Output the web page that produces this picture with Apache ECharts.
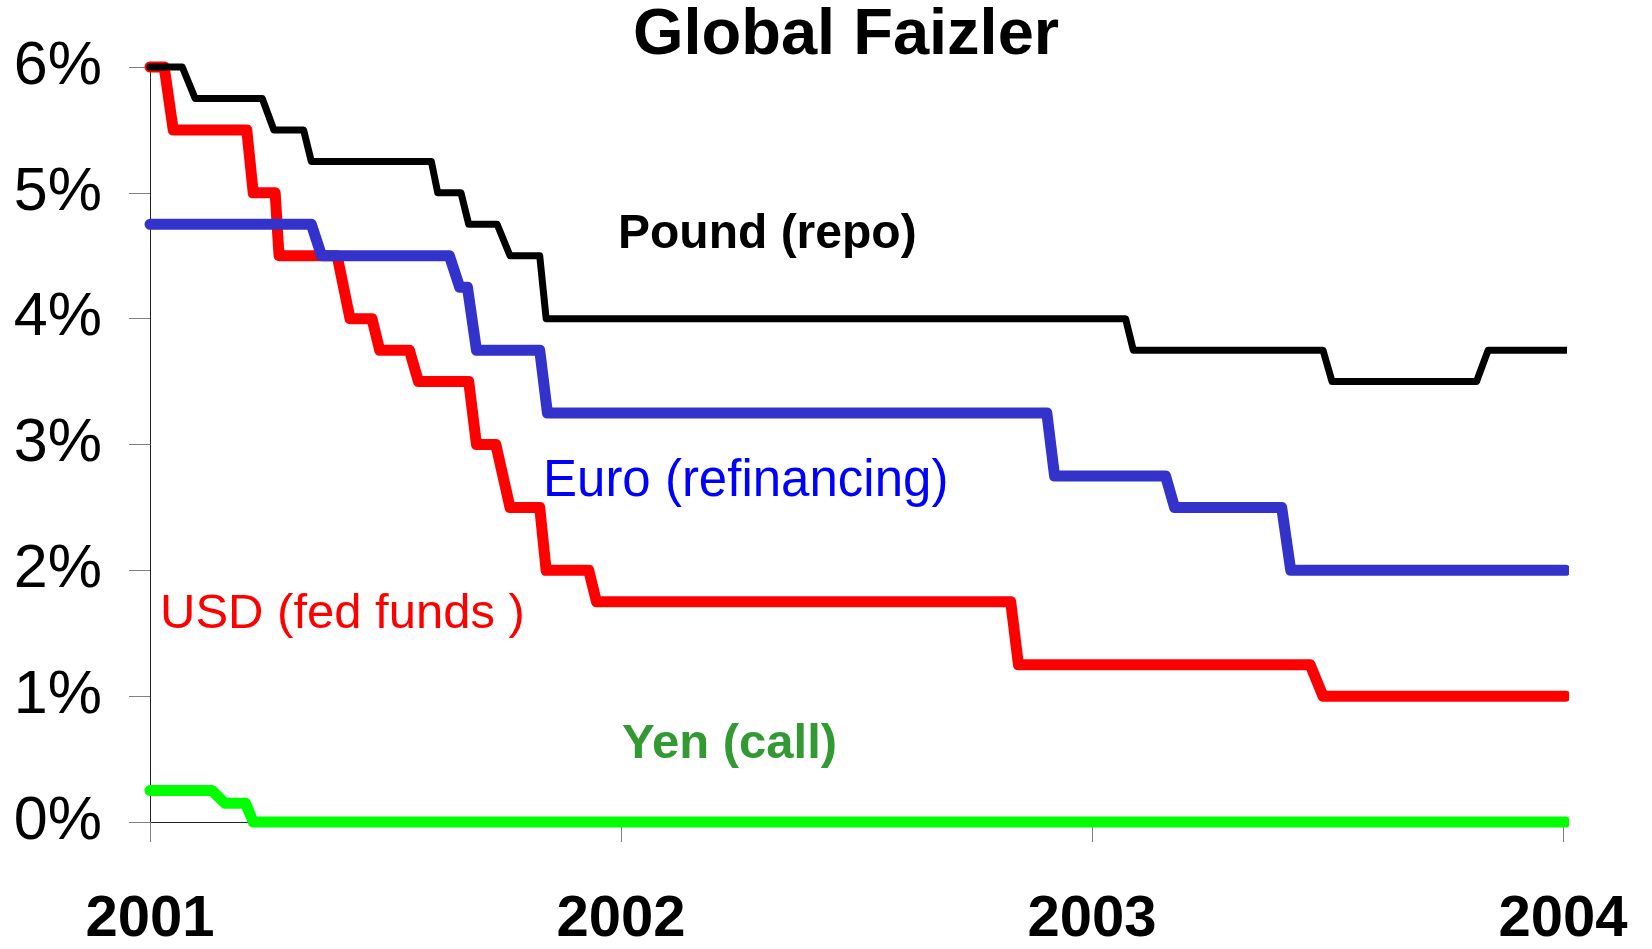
<!DOCTYPE html>
<html>
<head>
<meta charset="utf-8">
<title>Global Faizler</title>
<script src="https://cdn.jsdelivr.net/npm/echarts@6/dist/echarts.min.js"></script>
<style>
    html, body { margin: 0; padding: 0; background: #fff; }
    #chart { width: 1652px; height: 949px; }
</style>
</head>
<body>
<div id="chart"></div>
<script>
/*
 * Global Faizler - policy rates 2001-2003
 * weekly sampled step lines, x axis in decimal years
 */

// ======================
// DATA
// ======================

const yearTicks = [2001, 2002, 2003, 2004];
const rateTicks = [0, 1, 2, 3, 4, 5, 6];

const seriesNames = ['USD (fed funds )', 'Euro (refinancing)', 'Pound (repo)', 'Yen (call)'];

const usdDates = ['2001-01-01', '2001-01-12', '2001-01-19', '2001-03-17', '2001-03-22', '2001-04-08', '2001-04-11',
    '2001-05-26', '2001-06-05', '2001-06-22', '2001-06-28', '2001-07-21', '2001-07-28', '2001-09-05', '2001-09-11',
    '2001-09-26', '2001-10-07', '2001-10-30', '2001-11-04', '2001-12-07', '2001-12-13', '2002-10-30', '2002-11-05',
    '2003-06-19', '2003-06-29', '2004-01-03'];
const usdRates = [6.0, 6.0, 5.5, 5.5, 5.0, 5.0, 4.5,
    4.5, 4.0, 4.0, 3.75, 3.75, 3.5, 3.5, 3.0,
    3.0, 2.5, 2.5, 2.0, 2.0, 1.75, 1.75, 1.25,
    1.25, 1.0, 1.0];

const euroDates = ['2001-01-01', '2001-05-06', '2001-05-14', '2001-08-21', '2001-08-29', '2001-09-04', '2001-09-11',
    '2001-10-30', '2001-11-05', '2002-11-27', '2002-12-03', '2003-02-27', '2003-03-06', '2003-05-28', '2003-06-04',
    '2004-01-03'];
const euroRates = [4.75, 4.75, 4.5, 4.5, 4.25, 4.25, 3.75,
    3.75, 3.25, 3.25, 2.75, 2.75, 2.5, 2.5, 2.0,
    2.0];

const poundDates = ['2001-01-01', '2001-01-26', '2001-02-05', '2001-03-29', '2001-04-07', '2001-04-30', '2001-05-06',
    '2001-08-07', '2001-08-12', '2001-08-30', '2001-09-05', '2001-09-27', '2001-10-07', '2001-10-30', '2001-11-04',
    '2003-01-27', '2003-02-02', '2003-06-29', '2003-07-06', '2003-10-26', '2003-11-04', '2004-01-03'];
const poundRates = [6.0, 6.0, 5.75, 5.75, 5.5, 5.5, 5.25,
    5.25, 5.0, 5.0, 4.75, 4.75, 4.5, 4.5, 4.0,
    4.0, 3.75, 3.75, 3.5, 3.5, 3.75, 3.75];

const yenDates = ['2001-01-01', '2001-02-18', '2001-02-28', '2001-03-16', '2001-03-22', '2004-01-03'];
const yenRates = [0.25, 0.25, 0.15, 0.15, 0.0, 0.0];

// ======================
// HELPERS
// ======================

const FONT = '"Liberation Sans", Arial, Helvetica, sans-serif';

function toYear(s) {
    const [y, m, d] = s.split('-').map(Number);
    const start = Date.UTC(y, 0, 1);
    const end = Date.UTC(y + 1, 0, 1);
    return y + (Date.UTC(y, m - 1, d) - start) / (end - start);
}

function pairs(dates, rates) {
    return dates.map((d, i) => [toYear(d), rates[i]]);
}

function stepLine(name, dates, rates, color, width) {
    return {
        name: name,
        type: 'line',
        data: pairs(dates, rates),
        showSymbol: false,
        symbol: 'none',
        clip: false,
        animation: false,
        lineStyle: { color: color, width: width, cap: 'round', join: 'round' }
    };
}

function label(text, x, y, color, weight, size) {
    return {
        type: 'text',
        x: x,
        y: y,
        style: {
            text: text,
            fill: color,
            font: `${weight} ${size}px ${FONT}`,
            align: 'left',
            verticalAlign: 'middle'
        }
    };
}

// ======================
// CHART
// ======================

const chart = echarts.init(document.getElementById('chart'), null, { renderer: 'canvas' });

const option = {
    backgroundColor: '#ffffff',
    animation: false,
    title: {
        text: 'Global Faizler',
        left: 846,
        top: 36,
        textAlign: 'center',
        textVerticalAlign: 'middle',
        padding: 0,
        textStyle: { fontFamily: FONT, fontSize: 65, fontWeight: 'bold', color: '#000' }
    },
    grid: { left: 150, right: 89, top: 67, bottom: 126, containLabel: false },
    xAxis: {
        type: 'value',
        min: yearTicks[0],
        max: yearTicks[yearTicks.length - 1],
        interval: 1,
        axisLine: { show: true, onZero: false, lineStyle: { color: '#222', width: 1 } },
        axisTick: { show: true, length: 20, lineStyle: { color: '#808080', width: 1 } },
        splitLine: { show: false },
        axisLabel: {
            margin: 98,
            verticalAlign: 'middle',
            color: '#000',
            fontFamily: FONT,
            fontSize: 58,
            fontWeight: 'bold',
            formatter: v => String(v)
        }
    },
    yAxis: {
        type: 'value',
        min: rateTicks[0],
        max: rateTicks[rateTicks.length - 1],
        interval: 1,
        axisLine: { show: true, lineStyle: { color: '#222', width: 1 } },
        axisTick: { show: true, length: 21, lineStyle: { color: '#808080', width: 1 } },
        splitLine: { show: false },
        axisLabel: {
            margin: 48,
            padding: [10, 0, 0, 0],
            color: '#000',
            fontFamily: FONT,
            fontSize: 61,
            formatter: v => v + '%'
        }
    },
    series: [
        stepLine(seriesNames[0], usdDates, usdRates, '#ff0000', 11),
        stepLine(seriesNames[1], euroDates, euroRates, '#3333cc', 11),
        stepLine(seriesNames[2], poundDates, poundRates, '#000000', 7),
        stepLine(seriesNames[3], yenDates, yenRates, '#00ff00', 11)
    ],
    graphic: [
        label('Pound (repo)', 618, 235, '#000000', 'bold', 48),
        label('Euro (refinancing)', 543, 482, '#0000ff', 'normal', 51),
        label('USD (fed funds )', 160, 614, '#ff0000', 'normal', 49),
        label('Yen (call)', 622, 744, '#339933', 'bold', 49)
    ]
};

chart.setOption(option);
</script>
</body>
</html>
